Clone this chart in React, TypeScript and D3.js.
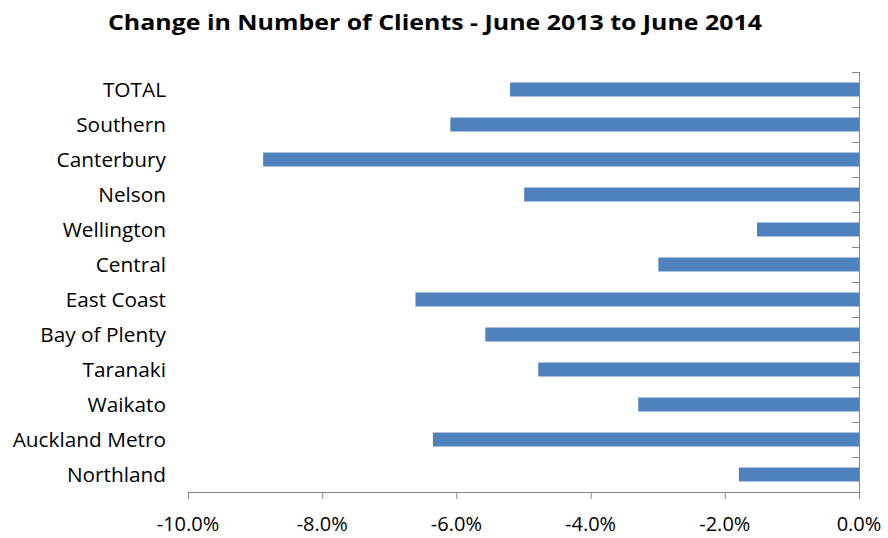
import React from "react";
import * as d3 from "d3";

const title = "Change in Number of Clients - June 2013 to June 2014";
const categories = [
  "TOTAL",
  "Southern",
  "Canterbury",
  "Nelson",
  "Wellington",
  "Central",
  "East Coast",
  "Bay of Plenty",
  "Taranaki",
  "Waikato",
  "Auckland Metro",
  "Northland",
];
const values = [-5.2, -6.09, -8.88, -4.99, -1.52, -2.99, -6.61, -5.57, -4.78, -3.29, -6.35, -1.79];
const xTicks = [-10, -8, -6, -4, -2, 0];

const W = 888;
const H = 538;
const left = 188;
const right = 859;
const top = 72;
const bottom = 492;
const axisColor = "#868686";
const barColor = "#4F81BD";
const font = "'Open Sans', sans-serif";

export default function App() {
  const x = d3.scaleLinear().domain([-10, 0]).range([left, right]);
  const y = d3.scaleBand<string>().domain(categories).range([top, bottom]);
  const band = y.bandwidth();
  const barH = 14;
  const fmt = (v: number) => v.toFixed(1) + "%";

  return (
    <svg width={W} height={H} style={{ position: "absolute", left: 0, top: 0, background: "#fff" }}>
      <text
        x={435}
        y={30}
        textAnchor="middle"
        fontFamily={font}
        fontWeight="bold"
        fontSize={22}
        textLength={654}
        lengthAdjust="spacingAndGlyphs"
        fill="#000"
      >
        {title}
      </text>
      {categories.map((c, i) => (
        <rect
          key={c}
          x={x(values[i])}
          y={(y(c) as number) + (band - barH) / 2}
          width={x(0) - x(values[i])}
          height={barH}
          fill={barColor}
        />
      ))}
      {/* y axis at zero */}
      <line x1={right + 0.5} x2={right + 0.5} y1={top} y2={bottom} stroke={axisColor} />
      {d3.range(categories.length + 1).map((i) => (
        <line
          key={"yt" + i}
          x1={right - 7}
          x2={right}
          y1={top + band * i + 0.5}
          y2={top + band * i + 0.5}
          stroke={axisColor}
        />
      ))}
      {categories.map((c) => (
        <text
          key={"l" + c}
          x={166}
          y={(y(c) as number) + band / 2 + 7.5}
          textAnchor="end"
          fontFamily={font}
          fontSize={20.8}
          fill="#000"
        >
          {c}
        </text>
      ))}
      {/* x axis */}
      <line x1={left} x2={right + 1} y1={bottom + 0.5} y2={bottom + 0.5} stroke={axisColor} />
      {xTicks.map((t) => (
        <g key={"xt" + t}>
          <line x1={x(t) + 0.5} x2={x(t) + 0.5} y1={bottom} y2={bottom + 7} stroke={axisColor} />
          <text x={x(t)} y={531} textAnchor="middle" fontFamily={font} fontSize={20} fill="#000">
            {fmt(t)}
          </text>
        </g>
      ))}
    </svg>
  );
}
